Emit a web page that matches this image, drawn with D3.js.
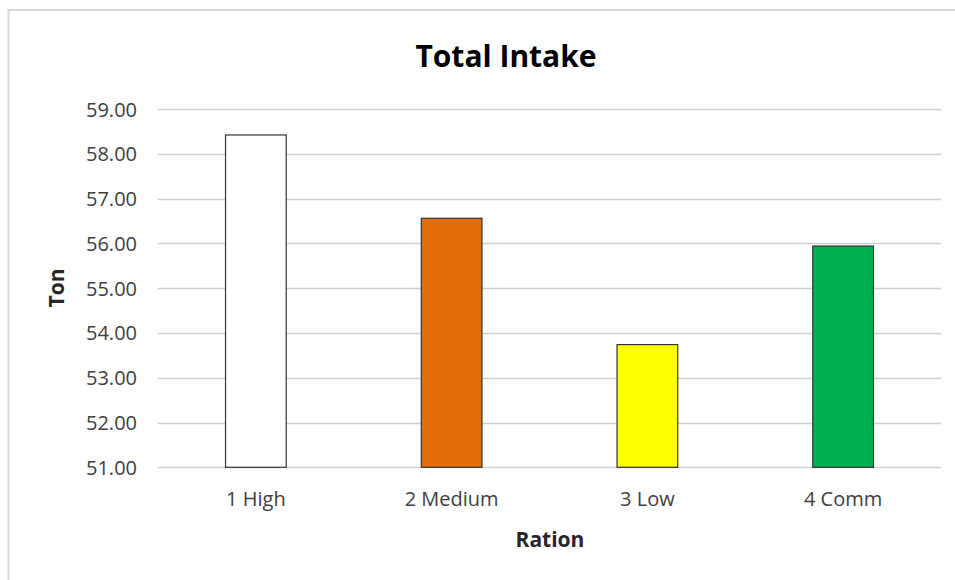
<!DOCTYPE html>
<html>
<head>
<meta charset="utf-8">
<script src="https://cdn.jsdelivr.net/npm/d3@7"></script>
<style>
  html, body { margin: 0; padding: 0; background: #fff; }
  svg { display: block; font-family: "Open Sans", "Noto Sans", sans-serif; }
</style>
</head>
<body>
<svg id="chart" width="955" height="580"></svg>
<script>
// Total intake per ration (tons)
const categories = ["1 High", "2 Medium", "3 Low", "4 Comm"];
const values = [58.42, 56.56, 53.74, 55.94];
const barColors = ["#ffffff", "#e36c09", "#ffff00", "#00b050"];
const yTicks = [51, 52, 53, 54, 55, 56, 57, 58, 59];

const svg = d3.select("#chart");
const margin = { left: 158, right: 14, top: 109, bottom: 112 };
const W = 955, H = 580;

// frame of the chart area
svg.append("path")
  .attr("d", `M8.5,${H} V10 H${W}`)
  .attr("fill", "none")
  .attr("stroke", "#d9d9d9")
  .attr("stroke-width", 2);

const x = d3.scaleBand()
  .domain(categories)
  .range([margin.left, W - margin.right])
  .padding(0);

const y = d3.scaleLinear()
  .domain([51, 59])
  .range([H - margin.bottom - 0.7, margin.top]);

// horizontal gridlines
svg.append("g")
  .selectAll("line")
  .data(yTicks)
  .join("line")
  .attr("x1", margin.left)
  .attr("x2", W - margin.right)
  .attr("y1", d => Math.round(y(d)) + 0.5)
  .attr("y2", d => Math.round(y(d)) + 0.5)
  .attr("stroke", "#d0d0d0")
  .attr("stroke-width", 1.3);

// y tick labels
const yAxis = d3.axisLeft(y).tickValues(yTicks).tickFormat(d3.format(".2f")).tickSize(0).tickPadding(0);
const gy = svg.append("g").attr("transform", `translate(137,0)`).call(yAxis);
gy.select(".domain").remove();
gy.selectAll("text")
  .attr("font-family", "'Open Sans', sans-serif")
  .attr("font-size", 20)
  .attr("fill", "#404040")
  .attr("dy", "0.35em");

// bars
const barW = x.bandwidth() * 0.31;
svg.append("g")
  .selectAll("rect")
  .data(values)
  .join("rect")
  .attr("x", (d, i) => x(categories[i]) + x.bandwidth() / 2 - barW / 2)
  .attr("y", d => y(d))
  .attr("width", barW)
  .attr("height", d => y(51) - y(d))
  .attr("fill", (d, i) => barColors[i])
  .attr("stroke", "#333")
  .attr("stroke-width", 1.2);

// x category labels
const xAxis = d3.axisBottom(x).tickSize(0).tickPadding(0);
const gx = svg.append("g").attr("transform", `translate(0,492)`).call(xAxis);
gx.select(".domain").remove();
gx.selectAll("text")
  .attr("font-family", "'Open Sans', sans-serif")
  .attr("font-size", 20)
  .attr("fill", "#404040");

// title
svg.append("text")
  .attr("x", 506)
  .attr("y", 67)
  .attr("text-anchor", "middle")
  .attr("font-size", 30)
  .attr("font-weight", "bold")
  .attr("fill", "#000")
  .text("Total Intake");

// axis titles
svg.append("text")
  .attr("x", 550)
  .attr("y", 547)
  .attr("text-anchor", "middle")
  .attr("font-size", 21)
  .attr("font-weight", "bold")
  .attr("fill", "#262626")
  .text("Ration");

svg.append("text")
  .attr("transform", "translate(64,288) rotate(-90)")
  .attr("text-anchor", "middle")
  .attr("font-size", 21)
  .attr("font-weight", "bold")
  .attr("fill", "#262626")
  .text("Ton");
</script>
</body>
</html>
